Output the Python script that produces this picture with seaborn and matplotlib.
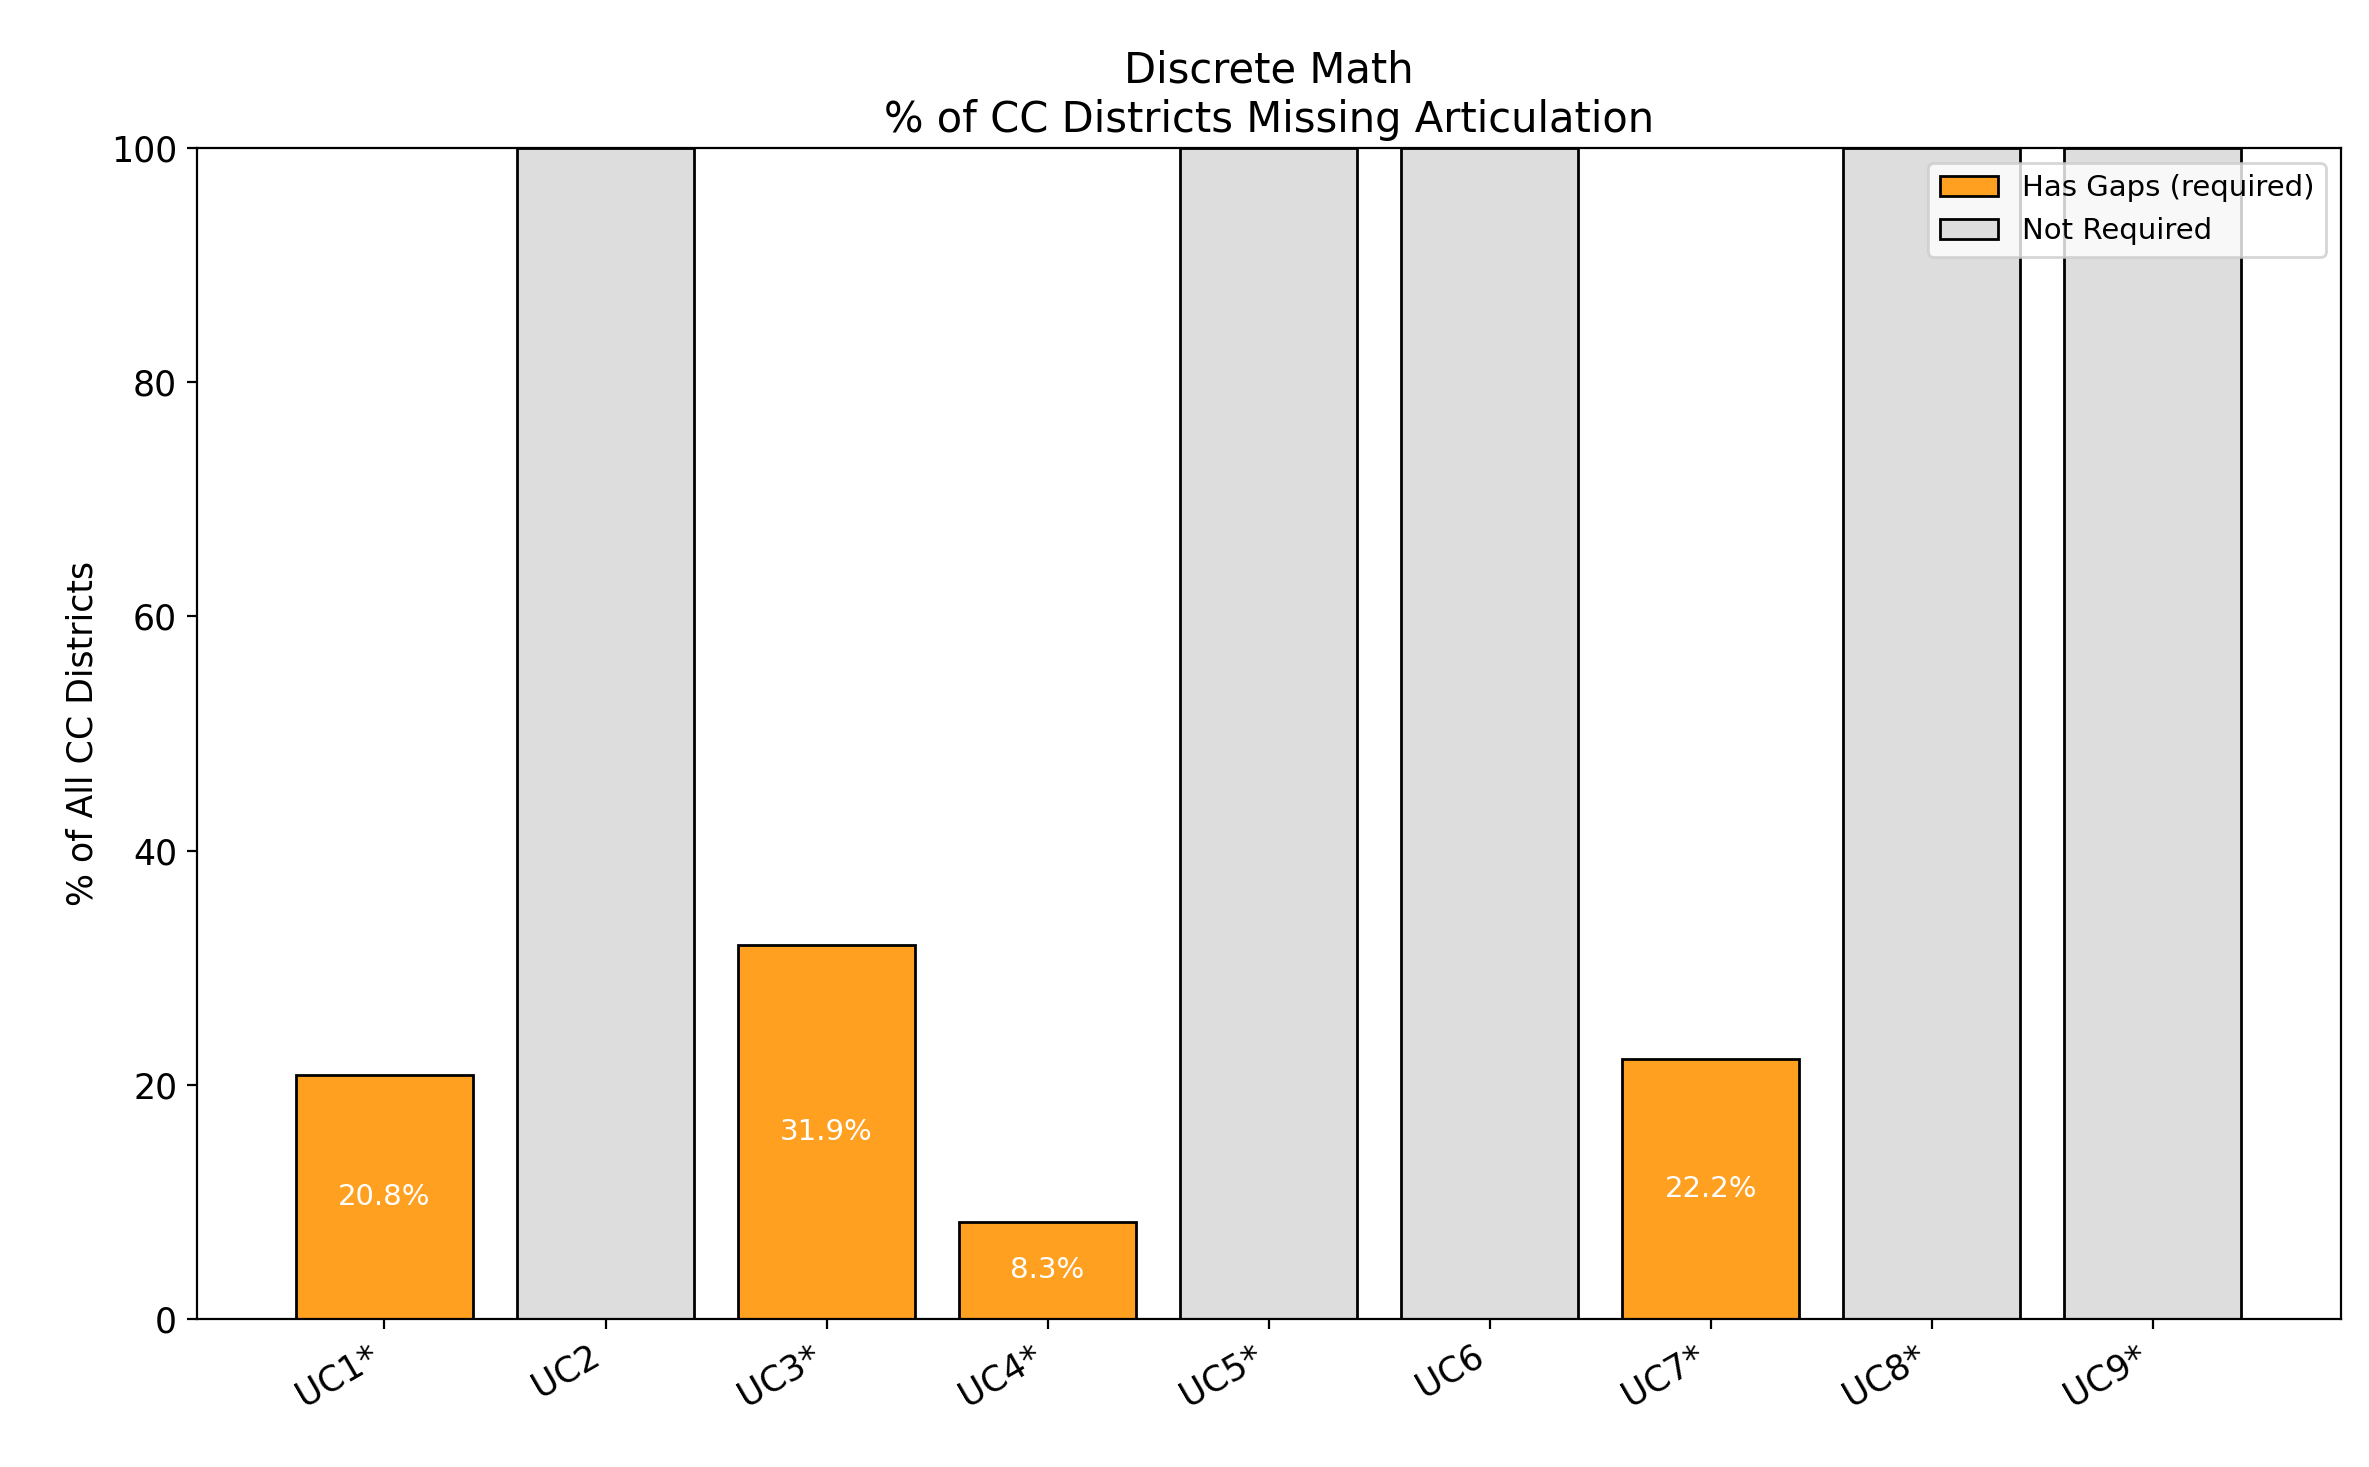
import matplotlib
matplotlib.use("Agg")
import matplotlib.pyplot as plt
import pandas as pd
import seaborn as sns

categories = ["UC1*", "UC2", "UC3*", "UC4*", "UC5*", "UC6", "UC7*", "UC8*", "UC9*"]
values = [20.8, 100, 31.9, 8.3, 100, 100, 22.2, 100, 100]
status = ["Has Gaps (required)", "Not Required", "Has Gaps (required)", "Has Gaps (required)",
          "Not Required", "Not Required", "Has Gaps (required)", "Not Required", "Not Required"]

df = pd.DataFrame({"campus": categories, "pct": values, "status": status})
palette = {"Has Gaps (required)": "#ffa020", "Not Required": "#dddddd"}

plt.rcParams["font.family"] = ["DejaVu Sans"]

fig, ax = plt.subplots(figsize=(11.845, 7.335), dpi=200)
sns.barplot(data=df, x="campus", y="pct", hue="status", dodge=False, palette=palette,
            edgecolor="black", linewidth=1.0, width=0.8, saturation=1, ax=ax,
            hue_order=["Has Gaps (required)", "Not Required"])

for i, (v, s) in enumerate(zip(values, status)):
    if s == "Has Gaps (required)":
        ax.text(i, v / 2, f"{v:.1f}%", ha="center", va="center", color="white", fontsize=10.5)

ax.set_ylim(0, 100)
ax.set_xlim(-0.85, 8.85)
ax.set_xlabel("")
ax.set_ylabel("% of All CC Districts", fontsize=12.5)
ax.set_title("Discrete Math\n% of CC Districts Missing Articulation", fontsize=15)
plt.setp(ax.get_xticklabels(), rotation=30, ha="right", fontsize=12.5)
plt.setp(ax.get_yticklabels(), fontsize=12.5)
ax.legend(loc="upper right", fontsize=10.5, title=None)
fig.subplots_adjust(left=0.083, right=0.988, top=0.899, bottom=0.101)
fig.savefig("out.png", dpi=200)
